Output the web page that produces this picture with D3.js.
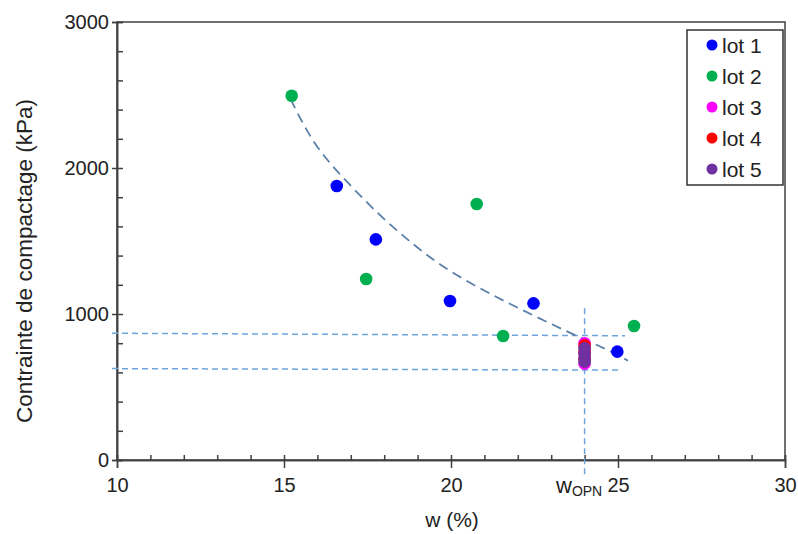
<!DOCTYPE html>
<html>
<head>
<meta charset="utf-8">
<script src="https://cdn.jsdelivr.net/npm/d3@7"></script>
<style>
  html, body { margin: 0; padding: 0; background: #fff; }
  svg { display: block; font-family: "Liberation Sans", Arial, sans-serif; }
</style>
</head>
<body>
<svg id="chart" width="798" height="534"></svg>
<script>
// ---- data ----
const seriesNames = ["lot 1", "lot 2", "lot 3", "lot 4", "lot 5"];
const seriesColors = ["#0000ff", "#00b050", "#ff00ff", "#ff0000", "#7030a0"];

const lot1W = [16.58, 17.75, 19.97, 22.47, 24.98];
const lot1C = [1877, 1511, 1089, 1073, 742];
const lot2W = [15.23, 17.46, 20.77, 21.56, 25.48];
const lot2C = [2495, 1240, 1753, 849, 918];
const lot3W = [24.0, 24.0, 24.0];
const lot3C = [800, 660, 730];
const lot4W = [24.0, 24.0, 24.0];
const lot4C = [785, 740, 690];
const lot5W = [24.0, 24.0, 24.0, 24.0];
const lot5C = [765, 730, 700, 675];

// trend curve
const trendW = [15.2, 15.9, 16.9, 17.9, 18.9, 19.7, 20.7, 21.7, 22.7, 23.7, 24.7, 25.3];
const trendC = [2470, 2150, 1900, 1665, 1470, 1330, 1195, 1075, 965, 855, 755, 680];

// reference lines
const refUpperW = [9.85, 25.21];
const refUpperC = [868, 851];
const refLowerW = [9.85, 25.12];
const refLowerC = [626, 616];
const wOPN = 24.0;
const refVertC = [1040, -120];

const xTicks = [10, 15, 20, 25, 30];
const yTicks = [0, 1000, 2000, 3000];
const xTitle = "w (%)";
const yTitle = "Contrainte de compactage (kPa)";

// ---- drawing ----
const svg = d3.select("#chart");
const x = d3.scaleLinear().domain([10, 30]).range([117, 785]);
const y = d3.scaleLinear().domain([0, 3000]).range([460, 22]);
const axisColor = "#404040";
const textColor = "#222";

// frame
svg.append("rect")
  .attr("x", x(10)).attr("y", y(3000))
  .attr("width", x(30) - x(10)).attr("height", y(0) - y(3000))
  .attr("fill", "none").attr("stroke", axisColor).attr("stroke-width", 1.5);

// x axis: minor inward ticks
const xMinor = d3.range(10, 31, 1);
const gxMinor = svg.append("g").attr("transform", `translate(0,${y(0)})`)
  .call(d3.axisBottom(x).tickValues(xMinor).tickSize(-5).tickFormat(""));
// x axis: major outward ticks + labels
const gx = svg.append("g").attr("transform", `translate(0,${y(0)})`)
  .call(d3.axisBottom(x).tickValues(xTicks).tickSize(8).tickPadding(10).tickFormat(d3.format("d")));

// y axis minor inward
const yMinor = d3.range(0, 3001, 200);
const gyMinor = svg.append("g").attr("transform", `translate(${x(10)},0)`)
  .call(d3.axisLeft(y).tickValues(yMinor).tickSize(-6).tickFormat(""));
const gy = svg.append("g").attr("transform", `translate(${x(10)},0)`)
  .call(d3.axisLeft(y).tickValues(yTicks).tickSize(5).tickPadding(3).tickFormat(d3.format("d")));

[gxMinor, gx, gyMinor, gy].forEach(g => {
  g.select(".domain").attr("stroke", axisColor).attr("stroke-width", 1.5);
  g.selectAll(".tick line").attr("stroke", axisColor).attr("stroke-width", 1.5);
  g.selectAll(".tick text").attr("fill", textColor)
    .style("font-size", "20px").style("font-family", "'Liberation Sans', Arial, sans-serif");
});

// axis titles
svg.append("text").attr("x", 452).attr("y", 527).attr("text-anchor", "middle")
  .attr("fill", textColor).style("font-size", "21px").text(xTitle);
svg.append("text").attr("transform", "translate(32,261) rotate(-90)").attr("text-anchor", "middle")
  .attr("fill", textColor).style("font-size", "22.5px").text(yTitle);

// reference dashed lines
const line = d3.line().x(d => x(d[0])).y(d => y(d[1]));
const refColor = "#6fa5db";
svg.append("path").datum(refUpperW.map((w, i) => [w, refUpperC[i]]))
  .attr("d", line).attr("fill", "none").attr("stroke", refColor).attr("stroke-width", 1.5).attr("stroke-dasharray", "6,4");
svg.append("path").datum(refLowerW.map((w, i) => [w, refLowerC[i]]))
  .attr("d", line).attr("fill", "none").attr("stroke", refColor).attr("stroke-width", 1.5).attr("stroke-dasharray", "6,4");
svg.append("path").datum(refVertC.map(c => [wOPN, c]))
  .attr("d", line).attr("fill", "none").attr("stroke", refColor).attr("stroke-width", 1.5).attr("stroke-dasharray", "6,4");

// trend curve
const curve = d3.line().x(d => x(d[0])).y(d => y(d[1])).curve(d3.curveBasis);
svg.append("path").datum(trendW.map((w, i) => [w, trendC[i]]))
  .attr("d", curve).attr("fill", "none").attr("stroke", "#5a80a8").attr("stroke-width", 1.8).attr("stroke-dasharray", "10,6");

// points
const series = [
  [lot1W, lot1C], [lot2W, lot2C], [lot3W, lot3C], [lot4W, lot4C], [lot5W, lot5C]
];
series.forEach((s, si) => {
  svg.append("g").selectAll("circle")
    .data(s[0].map((w, i) => [w, s[1][i]]))
    .join("circle")
    .attr("cx", d => x(d[0])).attr("cy", d => y(d[1])).attr("r", 6.3)
    .attr("fill", seriesColors[si]);
});

// w_OPN label
const lbl = svg.append("text").attr("x", 556).attr("y", 493).attr("fill", textColor);
lbl.append("tspan").style("font-size", "22px").text("w");
lbl.append("tspan").style("font-size", "14px").attr("dy", 3).text("OPN");

// legend
const lg = svg.append("g");
lg.append("rect").attr("x", 687).attr("y", 30).attr("width", 96).attr("height", 155)
  .attr("fill", "#fff").attr("stroke", "#333").attr("stroke-width", 1.5);
seriesNames.forEach((n, i) => {
  const cy = 45 + i * 31;
  lg.append("circle").attr("cx", 712).attr("cy", cy).attr("r", 5.5).attr("fill", seriesColors[i]);
  lg.append("text").attr("x", 722).attr("y", cy).attr("dy", "0.36em")
    .attr("fill", textColor).style("font-size", "21px").text(n);
});
</script>
</body>
</html>
